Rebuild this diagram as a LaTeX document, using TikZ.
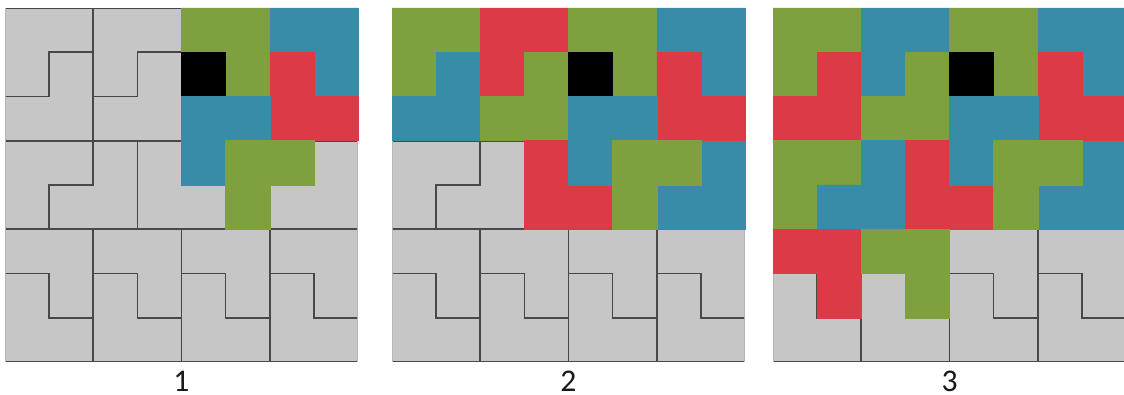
\documentclass[tikz,border=0pt]{standalone}
\usepackage{fontspec}
\setmainfont{Carlito}
\definecolor{tgreen}{RGB}{127,160,62}
\definecolor{tblue}{RGB}{56,140,168}
\definecolor{tred}{RGB}{220,58,70}
\definecolor{tgray}{RGB}{198,198,198}
\definecolor{tline}{RGB}{72,72,72}
\tikzset{
  gpiece/.style={draw=tline, line width=1.6pt, line join=miter},
  cgreen/.style={fill=tgreen, draw=tgreen, line width=0.5pt},
  cblue/.style={fill=tblue, draw=tblue, line width=0.5pt},
  cred/.style={fill=tred, draw=tred, line width=0.5pt},
  cblack/.style={fill=black, draw=black, line width=0.5pt},
  lab/.style={font=\fontsize{31.6}{36}\selectfont, text=black!90, inner sep=0pt},
  board/.style={x=44.125pt, y=-44.25pt},
}
% cell-shapes in (col,row) units
\def\sA{(0,0) -- (2,0) -- (2,1) -- (1,1) -- (1,2) -- (0,2) -- cycle}
\def\sB{(1,1) -- (2,1) -- (2,3) -- (0,3) -- (0,2) -- (1,2) -- cycle}
\def\sC{(2,0) -- (4,0) -- (4,1) -- (3,1) -- (3,2) -- (2,2) -- cycle}
\def\sD{(3,1) -- (4,1) -- (4,3) -- (2,3) -- (2,2) -- (3,2) -- cycle}
\def\sE{(0,3) -- (2,3) -- (2,4) -- (1,4) -- (1,5) -- (0,5) -- cycle}
\def\sF{(2,3) -- (3,3) -- (3,5) -- (1,5) -- (1,4) -- (2,4) -- cycle}
\def\sG{(3,3) -- (4,3) -- (4,4) -- (5,4) -- (5,5) -- (3,5) -- cycle}
\def\sH{(7,3) -- (8,3) -- (8,5) -- (6,5) -- (6,4) -- (7,4) -- cycle}
\def\sK{(4,0) -- (6,0) -- (6,2) -- (5,2) -- (5,1) -- (4,1) -- cycle}
\def\sL{(6,0) -- (8,0) -- (8,2) -- (7,2) -- (7,1) -- (6,1) -- cycle}
\def\sM{(6,1) -- (7,1) -- (7,2) -- (8,2) -- (8,3) -- (6,3) -- cycle}
\def\sN{(4,2) -- (6,2) -- (6,3) -- (5,3) -- (5,4) -- (4,4) -- cycle}
\def\sO{(5,3) -- (7,3) -- (7,4) -- (6,4) -- (6,5) -- (5,5) -- cycle}
\def\sU{(0,5) -- (2,5) -- (2,7) -- (1,7) -- (1,6) -- (0,6) -- cycle}
\def\sW{(2,5) -- (4,5) -- (4,7) -- (3,7) -- (3,6) -- (2,6) -- cycle}
\newcommand\commonpieces{%
  \filldraw[cgreen] \sK;
  \filldraw[cblack] (4,1) rectangle (5,2);
  \filldraw[cblue] \sL;
  \filldraw[cred] \sM;
  \filldraw[cblue] \sN;
  \filldraw[cgreen] \sO;
}
\newcommand\boardclip{%
  \clip ([shift={(0.9pt,-0.9pt)}]0,0) rectangle ([shift={(-0.9pt,0.9pt)}]8,8);
}
\begin{document}
\begin{tikzpicture}[x=1pt, y=1pt]
\useasboundingbox (0,0) rectangle (1124,-395);
\fill[white] (0,0) rectangle (1124,-395);

% ---------- Panel 1 ----------
\begin{scope}[shift={(5pt,-8pt)}, board]
  \fill[tgray] (0,0) rectangle (8,8);
  \begin{scope}
    \boardclip
    \foreach \s in {\sA,\sB,\sC,\sD,\sE,\sF,\sG,\sH}{\draw[gpiece] \s;}
    \foreach \k in {0,2,4,6}{
      \draw[gpiece] (\k,5) -- ({\k+2},5) -- ({\k+2},7) -- ({\k+1},7) -- ({\k+1},6) -- (\k,6) -- cycle;
      \draw[gpiece] (\k,6) -- ({\k+1},6) -- ({\k+1},7) -- ({\k+2},7) -- ({\k+2},8) -- (\k,8) -- cycle;
    }
  \end{scope}
  \commonpieces
\end{scope}

% ---------- Panel 2 ----------
\begin{scope}[shift={(392pt,-8pt)}, board]
  \fill[tgray] (0,0) rectangle (8,8);
  \begin{scope}
    \boardclip
    \draw[gpiece] \sE;
    \draw[gpiece] \sF;
    \foreach \k in {0,2,4,6}{
      \draw[gpiece] (\k,5) -- ({\k+2},5) -- ({\k+2},7) -- ({\k+1},7) -- ({\k+1},6) -- (\k,6) -- cycle;
      \draw[gpiece] (\k,6) -- ({\k+1},6) -- ({\k+1},7) -- ({\k+2},7) -- ({\k+2},8) -- (\k,8) -- cycle;
    }
  \end{scope}
  \filldraw[cgreen] \sA;
  \filldraw[cblue] \sB;
  \filldraw[cred] \sC;
  \filldraw[cgreen] \sD;
  \filldraw[cred] \sG;
  \filldraw[cblue] \sH;
  \commonpieces
\end{scope}

% ---------- Panel 3 ----------
\begin{scope}[shift={(773pt,-8pt)}, board]
  \fill[tgray] (0,0) rectangle (8,8);
  \begin{scope}
    \boardclip
    \foreach \k in {4,6}{
      \draw[gpiece] (\k,5) -- ({\k+2},5) -- ({\k+2},7) -- ({\k+1},7) -- ({\k+1},6) -- (\k,6) -- cycle;
    }
    \foreach \k in {0,2,4,6}{
      \draw[gpiece] (\k,6) -- ({\k+1},6) -- ({\k+1},7) -- ({\k+2},7) -- ({\k+2},8) -- (\k,8) -- cycle;
    }
  \end{scope}
  \filldraw[cgreen] \sA;
  \filldraw[cred] \sB;
  \filldraw[cblue] \sC;
  \filldraw[cgreen] \sD;
  \filldraw[cgreen] \sE;
  \filldraw[cblue] \sF;
  \filldraw[cred] \sG;
  \filldraw[cblue] \sH;
  \filldraw[cred] \sU;
  \filldraw[cgreen] \sW;
  \commonpieces
\end{scope}

% ---------- Labels ----------
\node[lab] (l1) at (181.5,-381) {1};
\node[lab] (l2) at (568.5,-381) {2};
\node[lab] (l3) at (949.5,-381) {3};
\end{tikzpicture}
\end{document}
